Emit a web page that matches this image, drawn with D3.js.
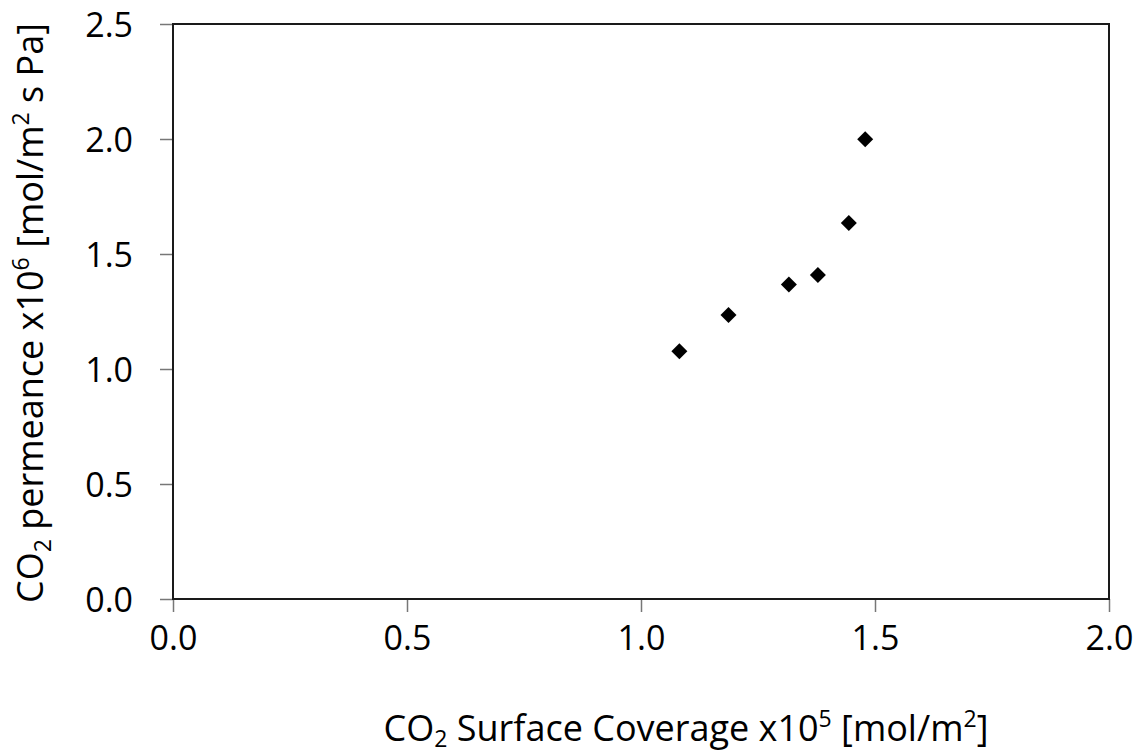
<!DOCTYPE html>
<html>
<head>
<meta charset="utf-8">
<script src="https://cdn.jsdelivr.net/npm/d3@7"></script>
<style>
  body { margin: 0; background: #fff; }
  text { font-family: "Open Sans", "Noto Sans", sans-serif; fill: #000; }
</style>
</head>
<body>
<svg id="chart" width="1141" height="755"></svg>
<script>
var coverage = [1.082, 1.187, 1.316, 1.378, 1.444, 1.479];
var permeance = [1.077, 1.235, 1.367, 1.409, 1.635, 1.999];
var xTicks = [0, 0.5, 1.0, 1.5, 2.0];
var yTicks = [0, 0.5, 1.0, 1.5, 2.0, 2.5];

var svg = d3.select('#chart');
var plotLeft = 173, plotRight = 1109, plotTop = 24, plotBottom = 599;

var x = d3.scaleLinear().domain([0, 2]).range([plotLeft, plotRight]);
var y = d3.scaleLinear().domain([0, 2.5]).range([plotBottom, plotTop]);

// axes (ticks outside, labels)
var xAxis = d3.axisBottom(x).tickValues(xTicks).tickSize(13).tickPadding(14)
  .tickFormat(d3.format('.1f'));
var yAxis = d3.axisLeft(y).tickValues(yTicks).tickSize(13).tickPadding(27)
  .tickFormat(d3.format('.1f'));

var gx = svg.append('g').attr('transform', 'translate(0,' + plotBottom + ')').call(xAxis);
var gy = svg.append('g').attr('transform', 'translate(' + plotLeft + ',0)').call(yAxis);

[gx, gy].forEach(function(g) {
  g.select('.domain').remove();
  g.selectAll('.tick line').attr('stroke', '#777').attr('stroke-width', 1.5);
  g.selectAll('.tick text').style('font-size', '34px').attr('fill', '#000')
    .style('font-family', '"Open Sans", "Noto Sans", sans-serif');
});
gy.selectAll('.tick text').attr('dy', '0.36em');

// plot frame
svg.append('rect')
  .attr('x', plotLeft).attr('y', plotTop)
  .attr('width', plotRight - plotLeft).attr('height', plotBottom - plotTop)
  .attr('fill', 'none').attr('stroke', '#1a1a1a').attr('stroke-width', 2);

// points
var pts = coverage.map(function(c, i) { return {x: c, y: permeance[i]}; });
svg.append('g').selectAll('path').data(pts).enter().append('path')
  .attr('transform', function(d) { return 'translate(' + x(d.x) + ',' + y(d.y) + ')'; })
  .attr('d', 'M0,-8L8,0L0,8L-8,0Z')
  .attr('fill', '#000');

// x title
var xt = svg.append('text').attr('x', 686).attr('y', 741)
  .attr('text-anchor', 'middle').style('font-size', '36px');
xt.append('tspan').text('CO');
xt.append('tspan').attr('dy', 6).style('font-size', '23px').text('2');
xt.append('tspan').attr('dy', -6).text(' Surface Coverage x10');
xt.append('tspan').attr('dy', -14).style('font-size', '23px').text('5');
xt.append('tspan').attr('dy', 14).text(' [mol/m');
xt.append('tspan').attr('dy', -14).style('font-size', '23px').text('2');
xt.append('tspan').attr('dy', 14).text(']');

// y title
var yt = svg.append('text')
  .attr('transform', 'translate(43,313) rotate(-90)')
  .attr('text-anchor', 'middle').style('font-size', '36px');
yt.append('tspan').text('CO');
yt.append('tspan').attr('dy', 8).style('font-size', '23px').text('2');
yt.append('tspan').attr('dy', -8).text(' permeance x10');
yt.append('tspan').attr('dy', -14).style('font-size', '23px').text('6');
yt.append('tspan').attr('dy', 14).text(' [mol/m');
yt.append('tspan').attr('dy', -14).style('font-size', '23px').text('2');
yt.append('tspan').attr('dy', 14).text(' s Pa]');
</script>
</body>
</html>
